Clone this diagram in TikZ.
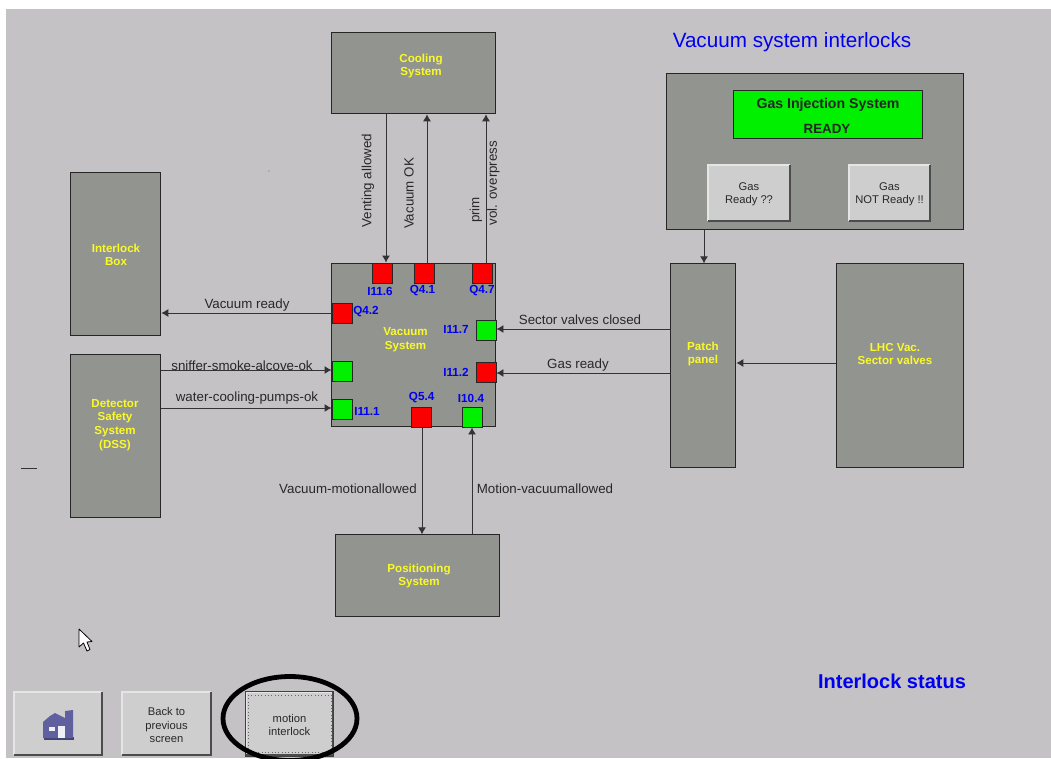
\documentclass[tikz,border=0pt]{standalone}
\usepackage{fontspec}
\setmainfont{Liberation Sans}
\usetikzlibrary{arrows.meta}
\definecolor{panel}{RGB}{197,194,197}
\definecolor{boxg}{RGB}{146,148,143}
\definecolor{btn}{RGB}{206,206,206}
\definecolor{ledg}{RGB}{0,240,0}
\definecolor{ledr}{RGB}{250,0,0}
\definecolor{lab}{RGB}{0,0,240}
\definecolor{yel}{RGB}{250,250,40}
\definecolor{txt}{RGB}{40,40,40}
\definecolor{house}{RGB}{96,96,160}
\tikzset{
 x=0.75pt,y=-0.75pt,
 gbox/.style={draw=black!85,line width=0.7pt,fill=boxg,inner sep=0pt},
 ytext/.style={text=yel,font=\bfseries\fontsize{8.7}{10.2}\selectfont,align=center,inner sep=0pt},
 led/.style={draw=black!85,line width=0.7pt,minimum width=20pt*0.75,minimum height=20pt*0.75,inner sep=0pt},
 ledon/.style={led,fill=ledg},
 ledoff/.style={led,fill=ledr},
 tag/.style={text=lab,font=\bfseries\fontsize{8.8}{10}\selectfont,inner sep=0pt},
 lbl/.style={text=txt,font=\fontsize{10}{12}\selectfont,inner sep=0pt},
 conn/.style={draw=black!80,line width=0.7pt,-{Latex[length=7pt*0.75,width=8pt*0.75]}},
 btnface/.style={fill=btn,draw=none,inner sep=0pt},
 btntext/.style={text=txt,font=\fontsize{8.4}{9.8}\selectfont,align=center,inner sep=0pt},
}
\newcommand{\rbox}[5]{\node[gbox,minimum width=(#3-#1)*0.75pt,minimum height=(#4-#2)*0.75pt] (#5) at ({(#1+#3)/2-0.2},{(#2+#4)/2-0.2}) {};}
\newcommand{\pbtn}[6]{%
 \node[btnface,minimum width=(#3-#1)*0.75pt,minimum height=(#4-#2)*0.75pt] (#5) at ({(#1+#3)/2},{(#2+#4)/2}) {};
 \node[btntext] (#5t) at ({(#1+#3)/2},{(#2+#4)/2+1.5}) {#6};
 \draw[white!90!black,line width=1pt] (#1,#4)--(#1,#2)--(#3,#2);
 \draw[black!70,line width=1pt] (#1,#4)--(#3,#4)--(#3,#2);}
\begin{document}
\begin{tikzpicture}
\useasboundingbox (0,0) rectangle (1051,758);
\fill[white] (0,0) rectangle (1051,758);
\fill[panel] (6,9) rectangle (1051,758);

% boxes
\rbox{332}{33}{496}{114}{cooling}
\rbox{71}{173}{161}{336}{ibox}
\rbox{71}{355}{161}{518}{dss}
\rbox{332}{264}{496}{427}{vac}
\rbox{336}{535}{500}{617}{pos}
\rbox{667}{74}{964}{230}{gas}
\rbox{671}{264}{736}{468}{patch}
\rbox{837}{264}{964}{468}{lhc}

\node[ytext] (tcool) at (421,66) {Cooling\\System};
\node[ytext] (tibox) at (116,255) {Interlock\\Box};
\node[ytext] (tdss) at (115,425) {Detector\\Safety\\System\\(DSS)};
\node[ytext] (tvac) at (405.5,339.5) {Vacuum\\System};
\node[ytext] (tpos) at (419,576) {Positioning\\System};
\node[ytext] (tpatch) at (703,354) {Patch\\panel};
\node[ytext] (tlhc) at (895,354) {LHC Vac.\\Sector valves};

% title labels
\node[text=lab,font=\fontsize{15.5}{18}\selectfont,inner sep=0pt] (title) at (792,42.5) {Vacuum system interlocks};
\node[text=lab,font=\bfseries\fontsize{15}{18}\selectfont,inner sep=0pt] (status) at (892,681) {Interlock status};

% gas panel
\node[draw=black!85,line width=0.7pt,fill=ledg,minimum width=189*0.75pt,minimum height=48*0.75pt,inner sep=0pt] (ready) at (827.8,114.8) {};
\node[text=black!85,font=\bfseries\fontsize{10.6}{12}\selectfont,inner sep=0pt] (tready1) at (828,105) {Gas Injection System};
\node[text=black!85,font=\bfseries\fontsize{10}{12}\selectfont,inner sep=0pt] (tready2) at (827,129) {READY};
\pbtn{708}{165}{790}{221}{bgas1}{Gas\\Ready ??}
\pbtn{849}{165}{930}{221}{bgas2}{Gas\\NOT Ready !!}

% LEDs
\node[ledoff] (i116) at (382.7,273) {};
\node[ledoff] (q41) at (424.3,273) {};
\node[ledoff] (q47) at (482.3,273) {};
\node[ledoff] (q42) at (342,313) {};
\node[ledon] (i117) at (486,330) {};
\node[ledoff] (i112) at (486,372) {};
\node[ledon] (lsniff) at (342,371) {};
\node[ledon] (i111) at (342,409) {};
\node[ledoff] (q54) at (421,417) {};
\node[ledon] (i104) at (472,417) {};

\node[tag] at (380,291) {I11.6};
\node[tag] at (422.5,291) {Q4.1};
\node[tag] at (482,291) {Q4.7};
\node[tag] at (366,312) {Q4.2};
\node[tag] at (456,329) {I11.7};
\node[tag] at (456,372) {I11.2};
\node[tag] at (367,411) {I11.1};
\node[tag] at (421.7,398) {Q5.4};
\node[tag] at (471,398) {I10.4};

% connectors
\coordinate (xa) at (386,0);
\coordinate (xb) at (427,0);
\coordinate (xc) at (486,0);
\coordinate (ya) at (0,329);
\coordinate (yb) at (0,373);
\coordinate (yc) at (0,370);
\coordinate (yd) at (0,408);
\draw[conn] (cooling.south -| xa) -- (i116.north -| xa);
\draw[conn] (q41.north -| xb) -- (cooling.south -| xb);
\draw[conn] (q47.north -| xc) -- (cooling.south -| xc);
\draw[conn] (q42.west) -- (ibox.east |- q42);
\draw[conn] (dss.east |- yc) -- (lsniff.west |- yc);
\draw[conn] (dss.east |- yd) -- (i111.west |- yd);
\draw[conn] (patch.west |- ya) -- (i117.east |- ya);
\draw[conn] (patch.west |- yb) -- (i112.east |- yb);
\draw[conn] (lhc.west |- 0,363) -- (patch.east |- 0,363);
\draw[conn] (gas.south -| 704,0) -- (patch.north -| 704,0);
\draw[conn] (q54.south -| 422,0) -- (pos.north -| 422,0);
\draw[conn] (pos.north -| i104) -- (i104.south);

% connector labels
\node[lbl,rotate=90] at (368,180.5) {Venting allowed};
\node[lbl,rotate=90] at (409,193.5) {Vacuum OK};
\node[lbl,rotate=90] at (476,210) {prim};
\node[lbl,rotate=90] at (493.5,183) {vol. overpress};
\node[lbl] at (247,305) {Vacuum ready};
\node[lbl] at (242,366) {sniffer-smoke-alcove-ok};
\node[lbl] at (247,398) {water-cooling-pumps-ok};
\node[lbl] at (580,320) {Sector valves closed};
\node[lbl] at (578,365) {Gas ready};
\node[lbl] at (348,489) {Vacuum-motionallowed};
\node[lbl] at (545,489) {Motion-vacuumallowed};

% stray marks
\draw[black!80,line width=0.7pt] (21,468) -- (37,468);
\fill[black!60] (269,171) circle (0.6);

% cursor
\draw[black,fill=white,line width=0.6pt,line join=round] (79,629) -- (79,647) -- (83.5,643) -- (87,651) -- (90,649.5) -- (87,642) -- (92,641.5) -- cycle;

% bottom buttons
\pbtn{14}{692}{102}{755}{bhome}{}
\pbtn{122}{692}{211}{755}{bback}{Back to\\previous\\screen}
\pbtn{246}{692}{333}{755}{bmotion}{motion\\interlock}
\draw[black!75,line width=0.5pt] (245.5,691.5) rectangle (333.5,756);
\draw[black!60,line width=0.5pt,dotted] (248.5,695) rectangle (331.5,752);
\fill[house!70!black] (44,739.5) rectangle (74,737);
\fill[house] (43,738) -- (43,722) -- (50,716) -- (55,713) -- (65,718) -- (65,711) -- (73,710) -- (73,738) -- cycle;
\fill[white!90!house] (49,727) rectangle (55,731);
\fill[white!90!house] (58,726) rectangle (65,738);

% hand-drawn ellipse
\draw[black,line width=3.6pt] (290,718.5) circle[x radius=67,y radius=42];
\end{tikzpicture}
\end{document}
